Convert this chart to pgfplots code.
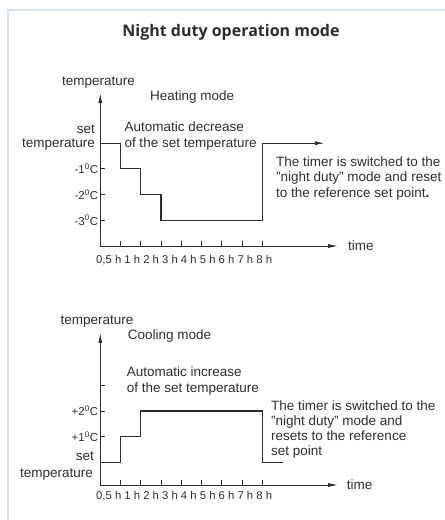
\documentclass[border=0pt]{standalone}
\usepackage{fontspec}
\setmainfont{Liberation Sans}
\newfontfamily\titlefont{Open Sans}
\usepackage{pgfplots}
\pgfplotsset{compat=1.18}
\usetikzlibrary{arrows.meta}
\definecolor{frame}{RGB}{214,228,240}
\definecolor{ink}{RGB}{45,45,45}
\begin{document}
\fontsize{13.5bp}{15.5bp}\selectfont
\begin{tikzpicture}[x=1bp,y=1bp,
  txt/.style={inner sep=0pt, text=ink},
  small/.style={font=\fontsize{11.3bp}{13bp}\selectfont}]
\path[use as bounding box] (0bp,0bp) rectangle (445bp,520bp);
\draw[frame, line width=1.2bp] (445bp,510bp) -- (8bp,510bp) -- (8bp,0bp);
\node[txt, font=\titlefont\bfseries\fontsize{16bp}{18bp}\selectfont] at (231bp,488bp) {Night duty operation mode};

% ---------- Heating mode ----------
\begin{axis}[at={(100.3bp,274bp)}, anchor=south west,
  axis lines=left, x=20.25bp, y=25.7bp,
  xmin=0, xmax=11.74, ymin=-4, ymax=1.95, clip=false,
  axis line style={ink, line width=0.9bp, -{Latex[length=10bp,width=4bp]}},
  tick align=inside, major tick length=5bp, tick style={ink, line width=0.9bp},
  xtick={1,2,3,4,5,6,7,8}, xticklabels={},
  ytick={-3,-2,-1,0},
  yticklabels={-3\textsuperscript{0}C,-2\textsuperscript{0}C,-1\textsuperscript{0}C,{}},
  yticklabel style={font=\fontsize{11.5bp}{13bp}\selectfont, text=ink, inner sep=2bp},
]
\addplot[ink, line width=1.2bp, -{Latex[length=10bp,width=4bp]}] coordinates
  {(0,0) (1,0) (1,-1) (2,-1) (2,-2) (3,-2) (3,-3) (8,-3) (8,0) (11.1,0)};
\end{axis}

\node[txt, anchor=base] at (98.5bp,434.5bp) {temperature};
\node[txt, anchor=base west] at (150bp,419.5bp) {Heating mode};
\node[txt, anchor=base east] at (95bp,386.5bp) {set};
\node[txt, anchor=base east] at (95bp,372.5bp) {temperature};
\node[txt, anchor=base west] at (124.3bp,388.5bp) {Automatic decrease};
\node[txt, anchor=base west] at (124.3bp,372.5bp) {of the set temperature};
\node[txt, anchor=base west] at (276bp,353.8bp) {The timer is switched to the};
\node[txt, anchor=base west] at (276bp,338.2bp) {"night duty" mode and reset};
\node[txt, anchor=base west] at (276bp,322.8bp) {to the reference set point\textbf{.}};
\node[txt, anchor=base west] at (348bp,269.5bp) {time};
\node[txt, small, anchor=base west] at (96bp,256bp) {0,5 h 1 h 2 h 3 h 4 h 5 h 6 h 7 h 8 h};

% ---------- Cooling mode ----------
\begin{axis}[at={(100.3bp,35bp)}, anchor=south west,
  axis lines=left, x=20.25bp, y=25.6bp,
  xmin=0, xmax=11.74, ymin=-0.89, ymax=5.05, clip=false,
  axis line style={ink, line width=0.9bp, -{Latex[length=10bp,width=4bp]}},
  tick align=inside, major tick length=5bp, tick style={ink, line width=0.9bp},
  xtick={1,2,3,4,5,6,7,8}, xticklabels={},
  ytick={0,1,2,3},
  yticklabels={{},+1\textsuperscript{0}C,+2\textsuperscript{0}C,{}},
  yticklabel style={font=\fontsize{11.5bp}{13bp}\selectfont, text=ink, inner sep=2bp},
]
\addplot[ink, line width=1.2bp] coordinates
  {(0,0) (1,0) (1,1) (2,1) (2,2) (8,2) (8,0) (9,0)};
\end{axis}

\node[txt, anchor=base] at (97bp,195.5bp) {temperature};
\node[txt, anchor=base west] at (127.7bp,180.5bp) {Cooling mode};
\node[txt, anchor=base west] at (126.7bp,143.5bp) {Automatic increase};
\node[txt, anchor=base west] at (126.7bp,127.5bp) {of the set temperature};
\node[txt, anchor=base east] at (94bp,59.8bp) {set};
\node[txt, anchor=base east] at (93bp,42.8bp) {temperature};
\node[txt, anchor=base west] at (271bp,109bp) {The timer is switched to the};
\node[txt, anchor=base west] at (271bp,94bp) {"night duty" mode and};
\node[txt, anchor=base west] at (271bp,79bp) {resets to the reference};
\node[txt, anchor=base west] at (271bp,64bp) {set point};
\node[txt, anchor=base west] at (346.7bp,30.5bp) {time};
\node[txt, small, anchor=base west] at (96bp,21bp) {0,5 h 1 h 2 h 3 h 4 h 5 h 6 h 7 h 8 h};
\end{tikzpicture}
\end{document}
